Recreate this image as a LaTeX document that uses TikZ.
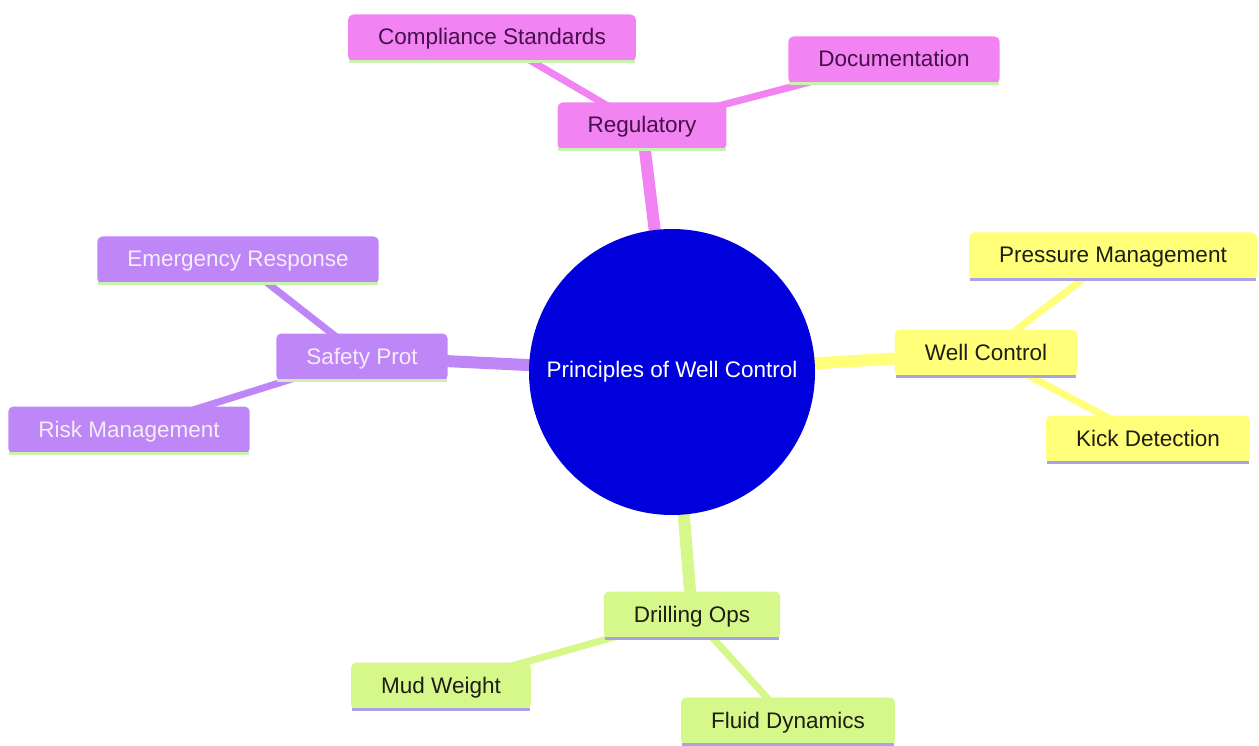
\documentclass[tikz,border=0pt]{standalone}
\usepackage{fontspec}
\setmainfont{Liberation Sans}
\pgfdeclarelayer{bg}
\pgfsetlayers{bg,main}
\definecolor{cpink}{HTML}{F283F2}
\definecolor{cyellow}{HTML}{FFFF7A}
\definecolor{cpurple}{HTML}{BF86F7}
\definecolor{cgreen}{HTML}{D6F78A}
\definecolor{cblue}{HTML}{0000DC}
\definecolor{lgreen}{HTML}{C9F2B0}
\definecolor{lav}{HTML}{A9A3E6}
\definecolor{tpink}{HTML}{45104A}
\definecolor{tdark}{HTML}{1E1E14}
\definecolor{tlight}{HTML}{F4EEF8}
\tikzset{
  x=1pt, y=-1pt,
  box/.style={rectangle, rounded corners=5pt, minimum height=47pt, minimum width=0pt, inner xsep=30pt, inner ysep=0pt,
    text height=18pt, text depth=4pt,
    font=\fontsize{22.5}{27}\selectfont},
  pinkbox/.style={box, fill=cpink, text=tpink},
  yellowbox/.style={box, fill=cyellow, text=tdark},
  purplebox/.style={box, fill=cpurple, text=tlight},
  greenbox/.style={box, fill=cgreen, text=tdark},
  mainedge/.style={line width=12pt},
  subedge/.style={line width=7pt},
}
\newcommand{\baseline}[2]{\draw[line width=3pt, #2] ([xshift=1pt]#1.south west) -- ([xshift=-1pt]#1.south east);}
\begin{document}
\begin{tikzpicture}
\useasboundingbox (0,0) rectangle (1259,746);
\node[circle, fill=cblue, minimum size=286pt, inner sep=0pt, text=white, font=\fontsize{22.5}{27}\selectfont] (root) at (672,372) {Principles of Well Control};

\node[pinkbox] (reg) at (642,126) {Regulatory};
\node[pinkbox] (comp) at (492,38) {Compliance Standards};
\node[pinkbox] (doc) at (894,60) {Documentation};

\node[yellowbox] (well) at (986,353) {Well Control};
\node[yellowbox] (press) at (1113,256) {Pressure Management};
\node[yellowbox] (kick) at (1148,439) {Kick Detection};

\node[purplebox] (safe) at (362,357) {Safety Prot};
\node[purplebox] (emer) at (238,260) {Emergency Response};
\node[purplebox] (risk) at (129,430) {Risk Management};

\node[greenbox] (drill) at (692,615) {Drilling Ops};
\node[greenbox] (mud) at (441,686) {Mud Weight};
\node[greenbox] (fluid) at (788,721) {Fluid Dynamics};

\begin{pgfonlayer}{bg}
\draw[mainedge, cpink] (root.center) -- (reg.center);
\draw[mainedge, cyellow] (root.center) -- (well.center);
\draw[mainedge, cpurple] (root.center) -- (safe.center);
\draw[mainedge, cgreen] (root.center) -- (drill.center);
\draw[subedge, cpink] (reg.center) -- (comp.center);
\draw[subedge, cpink] (reg.center) -- (doc.center);
\draw[subedge, cyellow] (well.center) -- (press.center);
\draw[subedge, cyellow] (well.center) -- (kick.center);
\draw[subedge, cpurple] (safe.center) -- (emer.center);
\draw[subedge, cpurple] (safe.center) -- (risk.center);
\draw[subedge, cgreen] (drill.center) -- (mud.center);
\draw[subedge, cgreen] (drill.center) -- (fluid.center);
\end{pgfonlayer}

\baseline{reg}{lgreen}
\baseline{comp}{lgreen}
\baseline{doc}{lgreen}
\baseline{well}{lav}
\baseline{press}{lav}
\baseline{kick}{lav}
\baseline{safe}{lgreen}
\baseline{emer}{lgreen}
\baseline{risk}{lgreen}
\baseline{drill}{lav}
\baseline{mud}{lav}
\baseline{fluid}{lav}
\end{tikzpicture}
\end{document}
